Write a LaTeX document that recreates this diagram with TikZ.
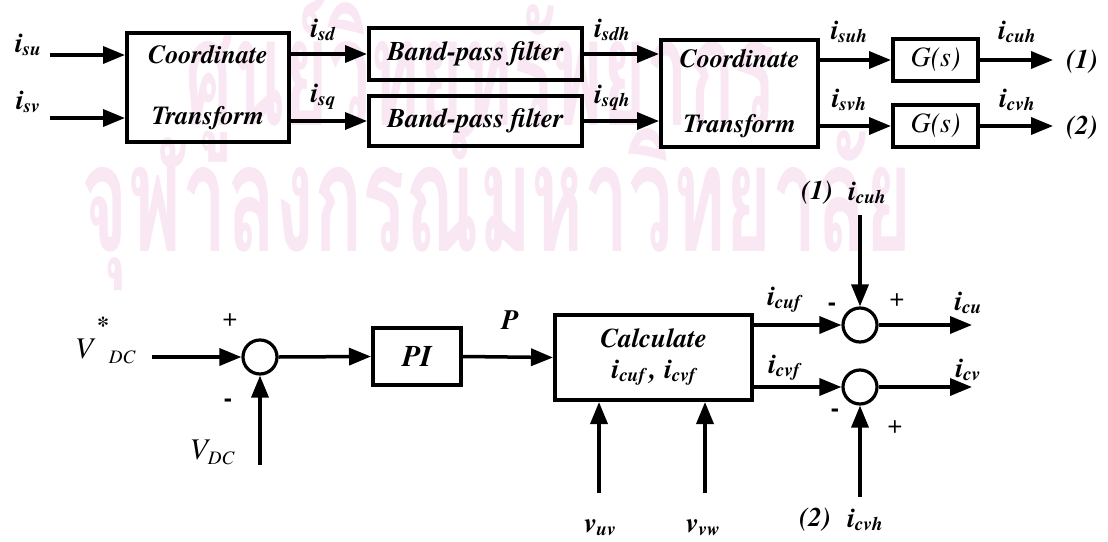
\documentclass[tikz,border=0pt]{standalone}
\usepackage{fontspec}
\setmainfont{texgyretermes}[Extension=.otf,UprightFont=*-regular,BoldFont=*-bold,ItalicFont=*-italic,BoldItalicFont=*-bolditalic]
\newfontfamily\thaifont[Script=Thai]{Loma}
\usetikzlibrary{arrows.meta,calc}
\definecolor{wm}{RGB}{249,232,243}
\newcommand\sig[2]{\textbf{\textit{#1}}\raisebox{-3pt}{\fontsize{19}{19}\selectfont\textbf{\textit{#2}}}}
\tikzset{
  arr/.style={line width=3.5pt,-{Triangle[length=22pt,width=17pt]}},
  blk/.style={draw,line width=4pt,inner sep=0pt,align=center,font=\fontsize{26}{61}\selectfont\bfseries\itshape},
  sumc/.style={draw,circle,line width=3.2pt,minimum size=34pt,inner sep=0pt},
  lbl/.style={inner sep=0pt,font=\fontsize{28}{28}\selectfont},
  sgn/.style={inner sep=0pt,font=\fontsize{26}{26}\selectfont},
  wmtext/.style={inner sep=0pt,text=wm,font=\thaifont\bfseries\fontsize{150}{150}\selectfont}
}
\begin{document}
\begin{tikzpicture}[x=1pt,y=-1pt]
\useasboundingbox (0,0) rectangle (1108,541);
% watermark
\node[wmtext] (wm1) at (480,78) {\scalebox{0.5}[1]{ศูนย์วิทยทรัพยากร}};
\node[wmtext] (wm2) at (497,205) {\scalebox{0.53}[1]{จุฬาลงกรณ์มหาวิทยาลัย}};
% top row blocks
\node[blk,minimum width=162pt,minimum height=109pt] (ct1) at (208,87.5) {Coordinate\\Transform};
\node[blk,minimum width=213pt,minimum height=52pt,font=\fontsize{27}{27}\selectfont\bfseries\itshape] (bpf1) at (475.5,54) {Band-pass filter};
\node[blk,minimum width=213pt,minimum height=50pt,font=\fontsize{27}{27}\selectfont\bfseries\itshape] (bpf2) at (475.5,121) {Band-pass filter};
\node[blk,minimum width=157pt,minimum height=107pt,font=\fontsize{26}{65}\selectfont\bfseries\itshape] (ct2) at (739.5,93.5) {Coordinate\\Transform};
\node[blk,minimum width=85pt,minimum height=42pt,font=\fontsize{28}{28}\selectfont\itshape] (g1) at (935.5,60) {G(s)};
\node[blk,minimum width=85pt,minimum height=42pt,font=\fontsize{28}{28}\selectfont\itshape] (g2) at (935.5,126) {G(s)};
\coordinate (isu) at (50,55);
\coordinate (isv) at (50,118);
\coordinate (out1) at (1053,60);
\coordinate (out2) at (1053,126);
\draw[arr] (isu) -- (isu -| ct1.west);
\draw[arr] (isv) -- (isv -| ct1.west);
\draw[arr] (ct1.east |- bpf1) -- (bpf1.west);
\draw[arr] (ct1.east |- bpf2) -- (bpf2.west);
\draw[arr] (bpf1.east) -- (bpf1.east -| ct2.west);
\draw[arr] (bpf2.east) -- (bpf2.east -| ct2.west);
\draw[arr] (ct2.east |- g1) -- (g1.west);
\draw[arr] (ct2.east |- g2) -- (g2.west);
\draw[arr] (g1.east) -- (out1);
\draw[arr] (g2.east) -- (out2);
\node[lbl] (l-isu) at (28,45) {\sig{i}{su}};
\node[lbl] (l-isv) at (28,102) {\sig{i}{sv}};
\node[lbl] (l-isd) at (323,30) {\sig{i}{sd}};
\node[lbl] (l-isq) at (323,97) {\sig{i}{sq}};
\node[lbl] (l-isdh) at (612,30) {\sig{i}{sdh}};
\node[lbl] (l-isqh) at (612,98) {\sig{i}{sqh}};
\node[lbl] (l-isuh) at (849,32) {\sig{i}{suh}};
\node[lbl] (l-isvh) at (849,100) {\sig{i}{svh}};
\node[lbl] (l-icuh) at (1017,32) {\sig{i}{cuh}};
\node[lbl] (l-icvh) at (1017,100) {\sig{i}{cvh}};
\node[lbl,font=\fontsize{27}{27}\selectfont\bfseries\itshape] (o1) at (1082,62) {(1)};
\node[lbl,font=\fontsize{27}{27}\selectfont\bfseries\itshape] (o2) at (1082,128) {(2)};
% bottom
\node[sumc] (s0) at (260,357) {};
\node[blk,minimum width=88pt,minimum height=57pt,font=\fontsize{30}{30}\selectfont\bfseries\itshape] (pi) at (417,356.5) {PI};
\node[blk,minimum width=197pt,minimum height=85pt,font=\fontsize{27}{31}\selectfont\bfseries\itshape] (calc) at (653.5,357.5) {Calculate\\\fontsize{28}{28}\selectfont\sig{i}{cuf}\,,\;\sig{i}{cvf}};
\node[sumc] (s1) at (860,325) {};
\node[sumc] (s2) at (860,387) {};
\coordinate (vref) at (152,357);
\coordinate (vdc) at (260,465);
\coordinate (vuv) at (599,493);
\coordinate (vvw) at (705,493);
\coordinate (cuh) at (860,215);
\coordinate (cvh) at (860,497);
\coordinate (cu) at (972,325);
\coordinate (cv) at (972,387);
\draw[arr] (vref) -- (s0.west);
\draw[arr] (vdc) -- (s0.south);
\draw[arr] (s0.east) -- (pi.west);
\draw[arr] (pi.east) -- (calc.west);
\draw[arr] (vuv) -- (vuv |- calc.south);
\draw[arr] (vvw) -- (vvw |- calc.south);
\draw[arr] (calc.east |- s1) -- (s1.west);
\draw[arr] (calc.east |- s2) -- (s2.west);
\draw[arr] (cuh) -- (s1.north);
\draw[arr] (cvh) -- (s2.south);
\draw[arr] (s1.east) -- (cu);
\draw[arr] (s2.east) -- (cv);
% bottom labels
\node[lbl,font=\fontsize{30}{30}\selectfont\itshape] (l-v) at (84,349) {V};
\node[lbl,font=\fontsize{24}{24}\selectfont\bfseries] (l-star) at (103,325) {*};
\node[lbl,font=\fontsize{19}{19}\selectfont\itshape] (l-dc) at (122,357) {DC};
\node[lbl,font=\fontsize{30}{30}\selectfont\itshape] (l-vdc) at (212,452) {V\raisebox{-5pt}{\fontsize{19}{19}\selectfont DC}};
\node[sgn] (p0) at (230,320) {+};
\node[sgn,font=\fontsize{26}{26}\selectfont\bfseries] (m0) at (228,403) {-};
\node[lbl,font=\fontsize{28}{28}\selectfont\bfseries\itshape] (l-p) at (510,320) {P};
\node[lbl] (l-vuv) at (600,528) {\sig{v}{uv}};
\node[lbl] (l-vvw) at (703,528) {\sig{v}{vw}};
\node[lbl] (l-icuf) at (785,300) {\sig{i}{cuf}};
\node[lbl] (l-icvf) at (785,368) {\sig{i}{cvf}};
\node[lbl] (l-icu) at (968,303) {\sig{i}{cu}};
\node[lbl] (l-icv) at (968,370) {\sig{i}{cv}};
\node[sgn,font=\fontsize{26}{26}\selectfont\bfseries] (m1) at (832,307) {-};
\node[sgn] (p1) at (897,300) {+};
\node[sgn,font=\fontsize{26}{26}\selectfont\bfseries] (m2) at (835,413) {-};
\node[sgn] (p2) at (895,427) {+};
\node[lbl,font=\fontsize{27}{27}\selectfont\bfseries\itshape] (n1) at (817,193) {(1)};
\node[lbl] (l-icuh2) at (867,193) {\sig{i}{cuh}};
\node[lbl,font=\fontsize{27}{27}\selectfont\bfseries\itshape] (n2) at (815,520) {(2)};
\node[lbl] (l-icvh2) at (865,520) {\sig{i}{cvh}};
\end{tikzpicture}
\end{document}
